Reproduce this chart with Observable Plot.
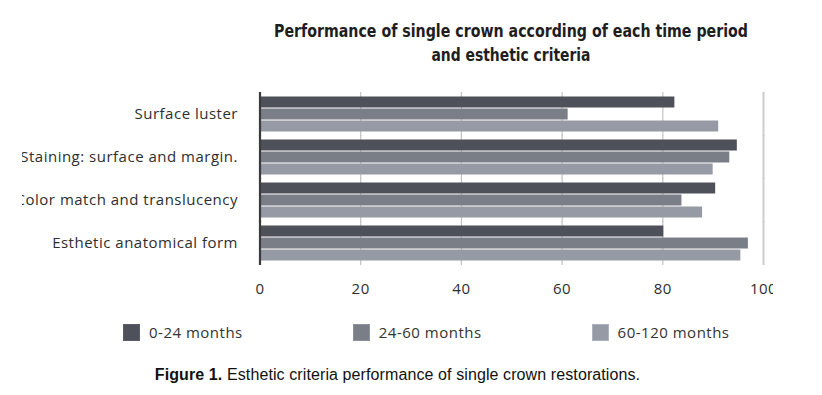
<!DOCTYPE html>
<html>
<head>
<meta charset="utf-8">
<script src="https://cdn.jsdelivr.net/npm/d3@7"></script>
<script src="https://cdn.jsdelivr.net/npm/@observablehq/plot@0.6"></script>
<style>
  html, body { margin: 0; padding: 0; background: #fff; }
  #page { position: relative; width: 822px; height: 395px; overflow: hidden; }
  #title { position: absolute; left: 0; top: 0; }
  #clip { position: absolute; left: 22px; top: 0; width: 751px; height: 300px; overflow: hidden; }
  #chart { position: absolute; left: -22px; top: 0; width: 822px; height: 300px; }
  #chart svg { letter-spacing: 0.5px; max-width: none !important; width: 822px; height: 300px; }
  #legend { position: absolute; left: 123px; top: 322px; display: flex; gap: 110px; align-items: center;
            font-family: "Open Sans", sans-serif; font-size: 15px; color: #333; letter-spacing: 0.5px; }
  .item { display: flex; align-items: center; }
  .sw { width: 17px; height: 17px; box-sizing: border-box; margin-right: 9px; }
  #caption { position: absolute; left: 0; width: 795px; top: 366px; text-align: center;
             font-family: "Liberation Sans", Arial, sans-serif; font-size: 16px; letter-spacing: 0.1px; line-height: 18px; color: #111; }
</style>
</head>
<body>
<div id="page">
  <svg id="title" width="822" height="75"></svg>
  <div id="clip"><div id="chart"></div></div>
  <div id="legend"></div>
  <div id="caption"><b>Figure 1.</b> Esthetic criteria performance of single crown restorations.</div>
</div>
<script>
const titleLines = ["Performance of single crown according of each time period", "and esthetic criteria"];
const criteria = ["Surface luster", "Staining: surface and margin.", "Color match and translucency", "Esthetic anatomical form"];
const series = ["0-24 months", "24-60 months", "60-120 months"];
const months0to24 = [82.4, 94.8, 90.5, 80.2];
const months24to60 = [61.2, 93.3, 83.8, 97.0];
const months60to120 = [91.1, 90.0, 87.9, 95.5];
const xTicks = [0, 20, 40, 60, 80, 100];
const colors = ["#4e5159", "#7a7e87", "#959aa5"];

const seriesValues = [months0to24, months24to60, months60to120];
const rows = [];
criteria.forEach((c, i) => series.forEach((s, j) => rows.push({criterion: c, series: s, value: seriesValues[j][i]})));

// Title
const tsvg = d3.select("#title");
const titleWidths = [474, 159];
const titleBaselines = [37, 61];
titleLines.forEach((t, i) => {
  tsvg.append("text")
    .attr("x", 511).attr("y", titleBaselines[i])
    .attr("text-anchor", "middle")
    .attr("textLength", titleWidths[i]).attr("lengthAdjust", "spacingAndGlyphs")
    .style("font-family", "'Liberation Sans Narrow', 'DejaVu Sans Condensed', Roboto, sans-serif")
    .style("font-weight", "bold").style("font-size", "17px").style("fill", "#1e1e1e")
    .text(t);
});

const chart = Plot.plot({
  width: 822,
  height: 300,
  marginLeft: 259.5,
  marginRight: 59,
  marginTop: 91.5,
  marginBottom: 33.6,
  style: {fontFamily: "'Open Sans', sans-serif", fontSize: "15px", color: "#2e2e2e", background: "transparent"},
  facet: {data: rows, y: "criterion"},
  fy: {domain: criteria, paddingInner: 0.16, paddingOuter: 0.08, label: null, tickSize: 0, tickPadding: 22, axis: "left"},
  y: {domain: series, axis: null, paddingInner: 0.1, paddingOuter: 0},
  x: {domain: [0, 100], ticks: xTicks, tickSize: 0, tickPadding: 22, label: null},
  color: {domain: series, range: colors},
  marks: [
    Plot.ruleX(xTicks.filter(d => d > 0 && d < 100), {stroke: "#c2c2c2", strokeWidth: 1.2, insetTop: -4, insetBottom: -4}),
    Plot.ruleX([100], {stroke: "#cdcdcd", strokeWidth: 2, insetTop: -4, insetBottom: -4}),
    Plot.barX(rows, {x: "value", y: "series", fill: "series"}),
    Plot.ruleX([0], {stroke: "#3b3b3b", strokeWidth: 2.2, insetTop: -4, insetBottom: -4})
  ]
});
document.getElementById("chart").appendChild(chart);

// Legend
const legend = d3.select("#legend");
series.forEach((s, i) => {
  const it = legend.append("div").attr("class", "item");
  it.append("div").attr("class", "sw").style("background", colors[i]).style("border", "1px solid " + d3.color(colors[i]).brighter(0.4));
  it.append("span").text(s);
});
</script>
</body>
</html>
